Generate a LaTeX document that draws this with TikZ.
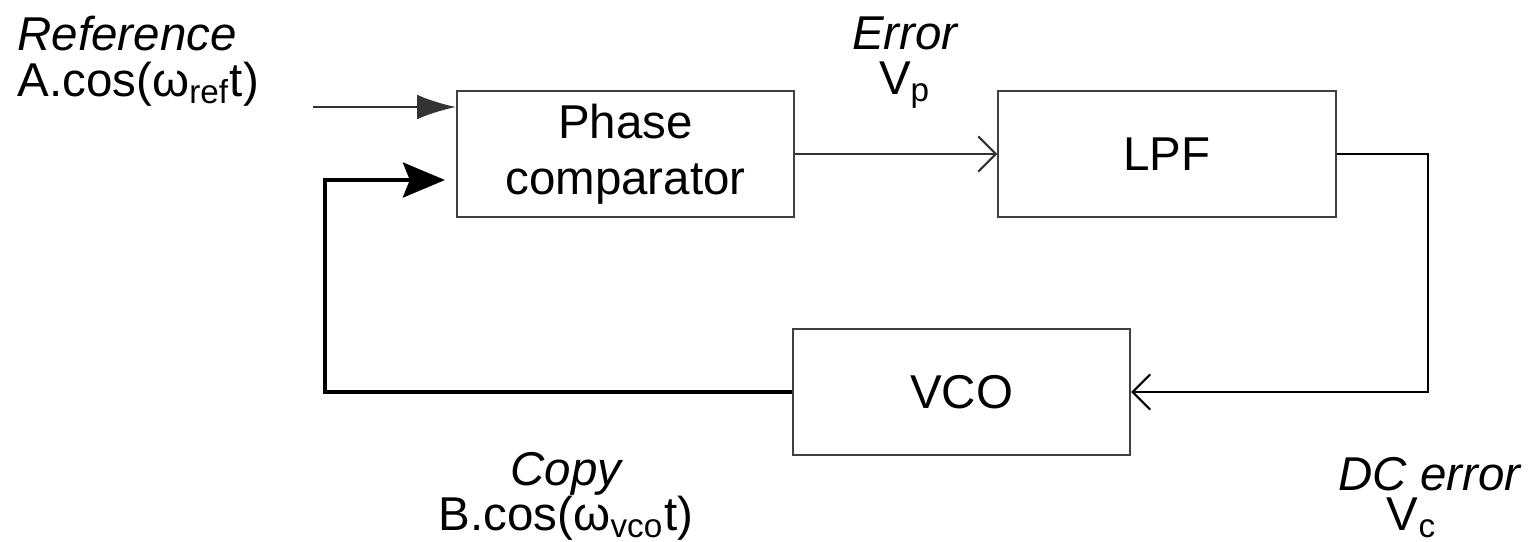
\documentclass[tikz,border=0pt]{standalone}
\usepackage{fontspec}
\setmainfont{Liberation Sans}
\usetikzlibrary{arrows.meta}
\newlength{\blockwidth}
\setlength{\blockwidth}{3.37cm}

\begin{document}
\begin{tikzpicture}[x=0.01cm, y=-0.01cm,
    every node/.style={font=\fontsize{13.5}{17}\selectfont},
    block/.style={draw=black!75, line width=0.6pt, minimum width=\blockwidth,
        minimum height=1.26cm, align=center, inner sep=0pt},
    lbl/.style={inner sep=0pt, align=center},
    wire/.style={line width=0.6pt}]
    \useasboundingbox (0,0) rectangle (1529,541);

    \node[block] (phase) at (625.5,154) {Phase\\[-1pt]comparator};
    \node[block] (lpf) at (1167,154) {LPF};
    \node[block] (vco) at (961.5,392) {VCO};

    \coordinate (refin) at (313,107);
    \coordinate (corner) at (1428,154);
    \coordinate (fbl) at (325,180);

    % input and forward path
    \draw[wire, black!80, -{Latex[length=11pt,width=7pt]}] (refin) -- (refin -| phase.west);
    \draw[wire, black!80, -{Straight Barb[length=5pt,width=10pt]}] (phase.east |- lpf) -- (lpf.west);
    \draw[wire, black, -{Straight Barb[length=5pt,width=10pt]}] (lpf.east) -- (corner) |- (vco.east);
    % feedback
    \draw[line width=0.9pt, black, -{Stealth[length=12pt,width=10pt,inset=2pt]}]
        (vco.west) -| (fbl) -- (445,180);

    \node[lbl, anchor=west] (reflbl) at (17,34) {\itshape Reference};
    \node[lbl, anchor=west] (refsig) at (17,84) {A.cos(ω\textsubscript{ref}t)};
    \node[lbl] (errlbl) at (905,33) {\itshape Error};
    \node[lbl] (vp) at (905,85) {V\textsubscript{p}};
    \node[lbl] (copylbl) at (566,474) {\itshape Copy};
    \node[lbl] (copysig) at (566,518) {B.cos(ω\textsubscript{vco}t)};
    \node[lbl, anchor=east] (dclbl) at (1521,474) {\itshape DC error};
    \node[lbl] (vc) at (1412,518) {V\textsubscript{c}};
\end{tikzpicture}
\end{document}
